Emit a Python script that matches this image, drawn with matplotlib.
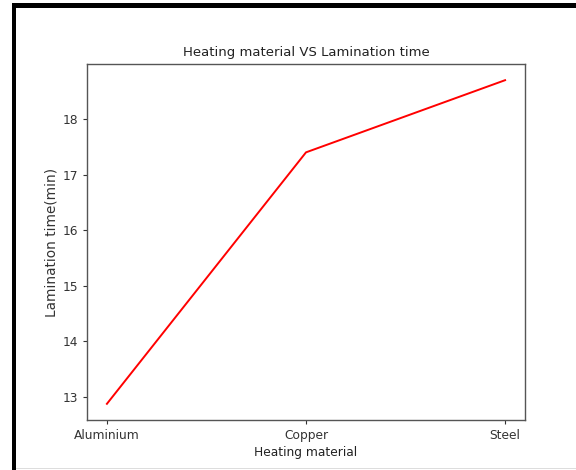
import matplotlib
matplotlib.use("Agg")
import matplotlib.pyplot as plt
from matplotlib.patches import Rectangle

materials = ["Aluminium", "Copper", "Steel"]
lamination_time = [12.87, 17.40, 18.70]

W, H = 576, 470
fig = plt.figure(figsize=(W / 100, H / 100), dpi=100)
fs = 8.8
ax = fig.add_axes([87 / W, (H - 420) / H, (525 - 87) / W, (420 - 64) / H])
ax.plot(materials, lamination_time, color="red", linewidth=1.4)
ax.set_title("Heating material VS Lamination time", fontsize=9.5, color="#222222", pad=5.5)
ax.set_xlabel("Heating material", fontsize=fs, color="#222222", labelpad=3)
ax.set_ylabel("Lamination time(min)", fontsize=9.8, color="#333333", labelpad=3)
ax.set_yticks([13, 14, 15, 16, 17, 18])
ax.tick_params(labelsize=fs, colors="#333333", length=3.1, width=0.8)
for s in ax.spines.values():
    s.set_color("#555555")
    s.set_linewidth(1.0)

# screenshot frame
fig.add_artist(Rectangle((12 / W, (H - 8) / H), 1 - 12 / W, 5 / H,
                         transform=fig.transFigure, color="black", lw=0))
fig.add_artist(Rectangle((12 / W, 0), 4 / W, (H - 3) / H,
                         transform=fig.transFigure, color="black", lw=0))
fig.add_artist(Rectangle((16 / W, 1 / H), 1 - 16 / W, 1.2 / H,
                         transform=fig.transFigure, color="#dddddd", lw=0))

fig.savefig("out.png", dpi=100)
